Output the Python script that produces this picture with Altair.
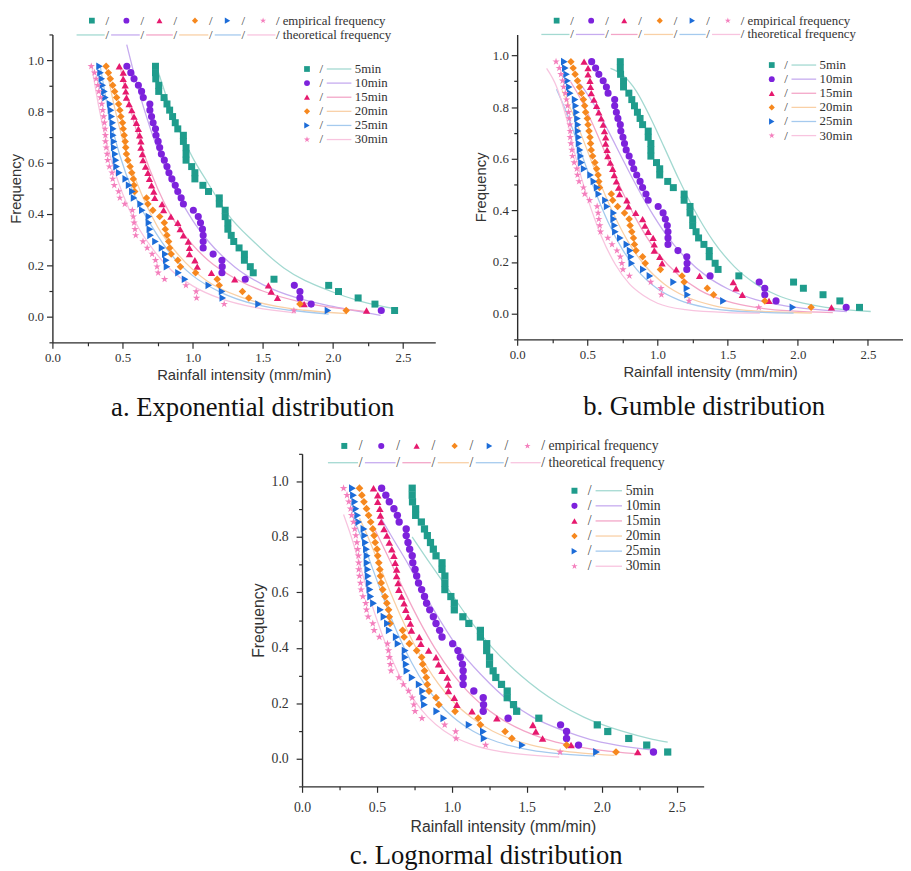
import altair as alt
import pandas as pd

SERIES = ["5min", "10min", "15min", "20min", "25min", "30min"]
POINT_COLORS = ["#1f9c8c", "#7d22dc", "#e6196e", "#f6881e", "#1c6cd8", "#f47fbd"]
LINE_COLORS = ["#a3d9d1", "#c6abef", "#f3a5c7", "#f9d0a6", "#a5caee", "#f8c4df"]
STAR = ("M0,-1L0.2245,-0.309L0.951,-0.309L0.363,0.118L0.588,0.809L0,0.382"
        "L-0.588,0.809L-0.363,0.118L-0.951,-0.309L-0.2245,-0.309Z")
SHAPES = ["square", "circle", "triangle-up", "diamond", "triangle-right", STAR]
POINT_SIZES = [50, 62, 125, 100, 125, 140]
LEGEND_SIZES = [34, 42, 80, 64, 80, 95]

# empirical frequency (same 40 levels for every duration)
FREQ = [0.976, 0.951, 0.927, 0.902, 0.878, 0.854, 0.829, 0.805, 0.780, 0.756,
        0.732, 0.707, 0.683, 0.659, 0.634, 0.610, 0.585, 0.561, 0.537, 0.512,
        0.488, 0.463, 0.439, 0.415, 0.390, 0.366, 0.341, 0.317, 0.293, 0.268,
        0.244, 0.220, 0.195, 0.171, 0.146, 0.122, 0.098, 0.073, 0.049, 0.024]

EMP_5 = [0.735, 0.735, 0.737, 0.758, 0.758, 0.796, 0.817, 0.836, 0.857, 0.876,
         0.894, 0.934, 0.934, 0.953, 0.953, 0.953, 0.993, 1.016, 1.016, 1.073,
         1.113, 1.190, 1.190, 1.232, 1.232, 1.251, 1.251, 1.275, 1.293, 1.331,
         1.369, 1.369, 1.411, 1.432, 1.580, 1.970, 2.040, 2.180, 2.300, 2.440]
EMP_10 = [0.531, 0.559, 0.582, 0.613, 0.636, 0.648, 0.695, 0.695, 0.707, 0.718,
          0.735, 0.739, 0.754, 0.765, 0.777, 0.798, 0.817, 0.831, 0.852, 0.876,
          0.894, 0.918, 0.934, 1.005, 1.040, 1.056, 1.070, 1.075, 1.075, 1.075,
          1.146, 1.209, 1.211, 1.209, 1.375, 1.725, 1.765, 1.765, 1.845, 2.345]
EMP_15 = [0.477, 0.505, 0.505, 0.519, 0.523, 0.528, 0.547, 0.566, 0.582, 0.599,
          0.613, 0.622, 0.631, 0.631, 0.641, 0.646, 0.664, 0.681, 0.692, 0.707,
          0.723, 0.730, 0.782, 0.793, 0.845, 0.894, 0.911, 0.934, 0.969, 0.977,
          0.977, 1.016, 1.033, 1.134, 1.300, 1.540, 1.560, 1.605, 1.795, 2.240]
EMP_20 = [0.383, 0.399, 0.413, 0.430, 0.444, 0.458, 0.472, 0.481, 0.488, 0.500,
          0.505, 0.512, 0.519, 0.523, 0.528, 0.538, 0.554, 0.566, 0.577, 0.582,
          0.587, 0.671, 0.681, 0.716, 0.765, 0.798, 0.805, 0.817, 0.829, 0.836,
          0.847, 0.894, 0.913, 1.021, 1.175, 1.190, 1.355, 1.400, 1.765, 2.095]
EMP_25 = [0.336, 0.343, 0.352, 0.359, 0.371, 0.378, 0.413, 0.418, 0.423, 0.430,
          0.434, 0.434, 0.439, 0.441, 0.448, 0.453, 0.458, 0.477, 0.523, 0.547,
          0.570, 0.582, 0.629, 0.641, 0.688, 0.688, 0.695, 0.700, 0.735, 0.782,
          0.805, 0.812, 0.817, 0.899, 0.946, 1.115, 1.210, 1.215, 1.470, 1.965]
EMP_30 = [0.277, 0.300, 0.312, 0.324, 0.331, 0.343, 0.352, 0.359, 0.366, 0.371,
          0.376, 0.378, 0.378, 0.383, 0.390, 0.394, 0.406, 0.425, 0.430, 0.441,
          0.472, 0.481, 0.516, 0.570, 0.577, 0.582, 0.589, 0.594, 0.646, 0.676,
          0.711, 0.735, 0.746, 0.754, 0.800, 0.952, 1.025, 1.028, 1.225, 1.722]
EMP_X = dict(zip(SERIES, [EMP_5, EMP_10, EMP_15, EMP_20, EMP_25, EMP_30]))

# theoretical frequency curves: (intensity, frequency)
THEO_A = {
    "5min": ([0.74, 0.85, 1.0, 1.11, 1.25, 1.44, 1.65, 1.98, 2.2, 2.45],
             [0.98, 0.80, 0.62, 0.52, 0.40, 0.29, 0.19, 0.10, 0.06, 0.03]),
    "10min": ([0.53, 0.6, 0.7, 0.8, 0.9, 1.0, 1.11, 1.3, 1.5, 1.75, 2.0, 2.34],
              [1.06, 0.91, 0.73, 0.585, 0.47, 0.375, 0.295, 0.194, 0.125, 0.072, 0.04, 0.005]),
    "15min": ([0.48, 0.55, 0.65, 0.75, 0.85, 1.0, 1.11, 1.3, 1.5, 1.79, 2.0, 2.24],
              [0.98, 0.82, 0.64, 0.50, 0.39, 0.28, 0.22, 0.15, 0.10, 0.055, 0.035, 0.02]),
    "20min": ([0.38, 0.45, 0.55, 0.65, 0.75, 0.9, 1.1, 1.35, 1.6, 1.8, 2.1],
              [0.98, 0.80, 0.60, 0.46, 0.35, 0.24, 0.14, 0.075, 0.04, 0.025, 0.012]),
    "25min": ([0.34, 0.40, 0.48, 0.58, 0.7, 0.85, 1.0, 1.2, 1.47, 1.7, 1.97],
              [0.98, 0.80, 0.63, 0.48, 0.36, 0.24, 0.16, 0.095, 0.045, 0.025, 0.01]),
    "30min": ([0.28, 0.33, 0.40, 0.50, 0.6, 0.72, 0.85, 1.0, 1.2, 1.45, 1.73],
              [0.98, 0.82, 0.65, 0.48, 0.36, 0.26, 0.18, 0.12, 0.07, 0.035, 0.015]),
}
THEO_B = {
    "5min": ([0.665, 0.75, 0.85, 0.95, 1.05, 1.15, 1.25, 1.4, 1.55, 1.7, 1.85, 2.0, 2.2, 2.52],
             [0.95, 0.925, 0.861, 0.759, 0.642, 0.523, 0.414, 0.279, 0.181, 0.115, 0.072, 0.045, 0.024, 0.008]),
    "10min": ([0.45, 0.55, 0.65, 0.75, 0.85, 0.95, 1.05, 1.2, 1.35, 1.5, 1.7, 1.9, 2.1, 2.35],
              [0.89, 0.808, 0.707, 0.600, 0.495, 0.399, 0.315, 0.216, 0.145, 0.096, 0.054, 0.031, 0.017, 0.008]),
    "15min": ([0.38, 0.45, 0.55, 0.65, 0.75, 0.85, 1.0, 1.15, 1.3, 1.5, 1.7, 1.95, 2.25],
              [0.899, 0.834, 0.720, 0.594, 0.472, 0.364, 0.236, 0.149, 0.091, 0.047, 0.024, 0.010, 0.004]),
    "20min": ([0.32, 0.4, 0.5, 0.6, 0.7, 0.8, 0.9, 1.05, 1.2, 1.4, 1.6, 1.85, 2.1],
              [0.864, 0.770, 0.632, 0.494, 0.371, 0.270, 0.193, 0.114, 0.066, 0.031, 0.014, 0.006, 0.002]),
    "25min": ([0.28, 0.35, 0.45, 0.55, 0.65, 0.75, 0.85, 1.0, 1.15, 1.35, 1.6, 1.97],
              [0.869, 0.781, 0.632, 0.483, 0.352, 0.249, 0.172, 0.096, 0.053, 0.023, 0.008, 0.002]),
    "30min": ([0.21, 0.28, 0.35, 0.42, 0.5, 0.6, 0.7, 0.8, 0.9, 1.0, 1.2, 1.5, 1.73],
              [0.95, 0.88, 0.76, 0.60, 0.45, 0.30, 0.19, 0.115, 0.07, 0.04, 0.015, 0.004, 0.002]),
}
THEO_C = {
    "5min": ([0.735, 0.86, 0.99, 1.12, 1.27, 1.46, 1.71, 1.88, 2.13, 2.34, 2.44],
             [0.80, 0.70, 0.60, 0.50, 0.40, 0.30, 0.20, 0.15, 0.10, 0.07, 0.06]),
    "10min": ([0.53, 0.60, 0.71, 0.81, 0.92, 1.04, 1.20, 1.40, 1.54, 1.75, 1.92, 2.09, 2.34],
              [0.865, 0.80, 0.70, 0.60, 0.50, 0.40, 0.30, 0.20, 0.15, 0.10, 0.07, 0.05, 0.031]),
    "15min": ([0.477, 0.51, 0.60, 0.687, 0.78, 0.885, 1.014, 1.188, 1.31, 1.48, 1.63, 1.776, 2.0, 2.225],
              [0.837, 0.80, 0.70, 0.60, 0.50, 0.40, 0.30, 0.20, 0.15, 0.10, 0.07, 0.05, 0.03, 0.018]),
    "20min": ([0.383, 0.44, 0.515, 0.59, 0.67, 0.76, 0.871, 1.02, 1.125, 1.27, 1.40, 1.525, 1.715, 1.87, 2.085],
              [0.868, 0.80, 0.70, 0.60, 0.50, 0.40, 0.30, 0.20, 0.15, 0.10, 0.07, 0.05, 0.03, 0.02, 0.012]),
    "25min": ([0.336, 0.394, 0.461, 0.529, 0.60, 0.681, 0.78, 0.914, 1.007, 1.139, 1.255, 1.366, 1.536, 1.676, 1.955],
              [0.877, 0.80, 0.70, 0.60, 0.50, 0.40, 0.30, 0.20, 0.15, 0.10, 0.07, 0.05, 0.03, 0.02, 0.009]),
    "30min": ([0.277, 0.329, 0.385, 0.44, 0.50, 0.568, 0.65, 0.762, 0.84, 0.949, 1.046, 1.139, 1.28, 1.397, 1.716],
              [0.881, 0.80, 0.70, 0.60, 0.50, 0.40, 0.30, 0.20, 0.15, 0.10, 0.07, 0.05, 0.03, 0.02, 0.006]),
}

X_TICKS = [0.0, 0.25, 0.5, 0.75, 1.0, 1.25, 1.5, 1.75, 2.0, 2.25, 2.5]
Y_TICKS = [-0.1, 0.0, 0.1, 0.2, 0.3, 0.4, 0.5, 0.6, 0.7, 0.8, 0.9, 1.0, 1.1]

SERIF = "Liberation Serif"
SANS = "Liberation Sans"
INK = "#2b2b2b"

# legend layout (pixels relative to plot's top-left, for scale factor 1)
SYM_X = [40, 75, 108.5, 144.5, 177.5, 213.5]
SLASH_X = [55.5, 91, 124.5, 160.5, 193.5]
SEG_START = [24.5, 59.5, 95, 128.5, 164.5, 197.5]
SEG_END = [53, 88.5, 122, 158, 191, 226]
LABEL_X = 226.5


def make_panel(theo, caption, width, height, xmax, ytop, s, ly1, ly2, iy0,
               cap_dx, cap_off, lfs, tfs, lab_pad, title_pad):
    def px(v):
        return v * xmax / width

    def py(v):
        return ytop - v * (ytop + 0.1) / height

    emp_rows, theo_rows = [], []
    for name in SERIES:
        for xv, fv in zip(EMP_X[name], FREQ):
            emp_rows.append({"series": name, "x": xv, "y": fv})
        for xv, fv in zip(*theo[name]):
            theo_rows.append({"series": name, "x": xv, "y": fv})
    emp_df = pd.DataFrame(emp_rows)
    theo_df = pd.DataFrame(theo_rows)

    sym_rows, seg_rows, slash_rows, lab_rows = [], [], [], []
    step = 14.3 * s
    for i, name in enumerate(SERIES):
        sym_rows.append({"series": name, "x": px(SYM_X[i] * s), "y": py(ly1)})
        seg_rows.append({"series": name, "x": px(SEG_START[i] * s),
                         "x2": px(SEG_END[i] * s), "y": py(ly2)})
        yy = iy0 + i * step
        sym_rows.append({"series": name, "x": px(258 * s), "y": py(yy)})
        seg_rows.append({"series": name, "x": px(278 * s), "x2": px(303 * s), "y": py(yy)})
        slash_rows.append({"t": "/", "x": px(272.5 * s), "y": py(yy)})
        lab_rows.append({"t": name, "x": px(306.5 * s), "y": py(yy)})
    for sx in SLASH_X:
        slash_rows.append({"t": "/", "x": px(sx * s), "y": py(ly1)})
        slash_rows.append({"t": "/", "x": px(sx * s), "y": py(ly2)})
    lab_rows.append({"t": "/ empirical frequency", "x": px(LABEL_X * s), "y": py(ly1)})
    lab_rows.append({"t": "/ theoretical frequency", "x": px(LABEL_X * s), "y": py(ly2)})

    xsc = alt.Scale(domain=[0, xmax], nice=False, zero=False)
    ysc = alt.Scale(domain=[-0.1, ytop], nice=False, zero=False)
    stroke_sc = alt.Scale(domain=SERIES, range=LINE_COLORS)
    fill_sc = alt.Scale(domain=SERIES, range=POINT_COLORS)
    shape_sc = alt.Scale(domain=SERIES, range=SHAPES)

    common = dict(grid=False, domainColor=INK, domainWidth=1.4, tickColor=INK,
                  tickWidth=1.2, labelFont=SERIF, labelFontSize=lfs, labelColor="#333",
                  titleFont=SANS, titleFontSize=tfs, titleFontWeight="normal",
                  titleColor="#333", titlePadding=title_pad, labelOverlap=False,
                  labelPadding=lab_pad)
    ax = alt.Axis(values=X_TICKS,
                  labelExpr="datum.value % 0.5 === 0 ? format(datum.value, '.1f') : ''",
                  tickSize={"condition": {"test": "datum.value % 0.5 === 0", "value": 6},
                            "value": 3.5},
                  labelFlush=False, **common)
    ay = alt.Axis(values=[v for v in Y_TICKS if v <= ytop + 1e-9],
                  labelExpr="abs(round(datum.value * 10)) % 2 === 0 ? format(datum.value, '.1f') : ''",
                  tickSize={"condition": {"test": "abs(round(datum.value * 10)) % 2 === 0",
                                          "value": 6}, "value": 3.5},
                  **common)
    X = alt.X("x:Q", scale=xsc, axis=ax, title="Rainfall intensity (mm/min)")
    Y = alt.Y("y:Q", scale=ysc, axis=ay, title="Frequency")

    lines = alt.Chart(theo_df).mark_line(strokeWidth=1.3, interpolate="monotone").encode(
        x=X, y=Y, stroke=alt.Stroke("series:N", scale=stroke_sc, legend=None),
        detail="series:N")
    pts = alt.Chart(emp_df).mark_point(filled=True, opacity=1).encode(
        x=X, y=Y, fill=alt.Fill("series:N", scale=fill_sc, legend=None),
        shape=alt.Shape("series:N", scale=shape_sc, legend=None),
        size=alt.Size("series:N", scale=alt.Scale(domain=SERIES,
                                                  range=[v * s for v in POINT_SIZES]),
                      legend=None))
    segs = alt.Chart(pd.DataFrame(seg_rows)).mark_rule(strokeWidth=1.3).encode(
        x=X, x2=alt.X2("x2:Q"), y=Y,
        stroke=alt.Stroke("series:N", scale=stroke_sc, legend=None))
    syms = alt.Chart(pd.DataFrame(sym_rows)).mark_point(filled=True, opacity=1).encode(
        x=X, y=Y, fill=alt.Fill("series:N", scale=fill_sc, legend=None),
        shape=alt.Shape("series:N", scale=shape_sc, legend=None),
        size=alt.Size("series:N", scale=alt.Scale(domain=SERIES,
                                                  range=[v * s for v in LEGEND_SIZES]),
                      legend=None))
    slashes = alt.Chart(pd.DataFrame(slash_rows)).mark_text(
        align="center", baseline="middle", font=SERIF, fontSize=13 * s, color="#444").encode(
        x=X, y=Y, text="t:N")
    labels = alt.Chart(pd.DataFrame(lab_rows)).mark_text(
        align="left", baseline="middle", font=SERIF, fontSize=13 * s, color="#333").encode(
        x=X, y=Y, text="t:N")

    layered = alt.layer(lines, pts, segs, syms, slashes, labels).resolve_scale(size="independent")
    return layered.properties(
        width=width, height=height,
        title=alt.TitleParams(caption, orient="bottom", anchor="middle", frame="group",
                              font=SERIF, fontSize=27, fontWeight="normal", color="#111",
                              offset=cap_off, dx=cap_dx))


pa = make_panel(THEO_A, "a. Exponential distribution", 388, 312, 2.73, 1.1, 1.0,
                -14, 0.5, 35, 9, 13, 13, 15, 3, 4)
pb = make_panel(THEO_B, "b. Gumble distribution", 391, 309, 2.75, 1.0814, 1.0,
                -14, 0.0, 31, -6, 15, 13, 15, 3, 4)
pc = make_panel(THEO_C, "c. Lognormal distribution", 407, 337, 2.68, 1.1, 1.07,
                -8, 9, 37.4, -17, 9, 14, 16, 8, 5)

spacer = alt.Chart(pd.DataFrame({"v": [0]})).mark_point(opacity=0).encode(
    x=alt.value(0), y=alt.value(0)).properties(width=200, height=10)

top = alt.hconcat(pa, pb, spacing=38)
bottom = alt.hconcat(spacer, pc, spacing=0)
chart = alt.vconcat(top, bottom, spacing=18).properties(
    padding={"left": 0, "top": 0, "right": 0, "bottom": 0},
    background="white",
).configure_view(stroke=None)

chart.save("out.html", embed_options={"renderer": "svg", "actions": False})
